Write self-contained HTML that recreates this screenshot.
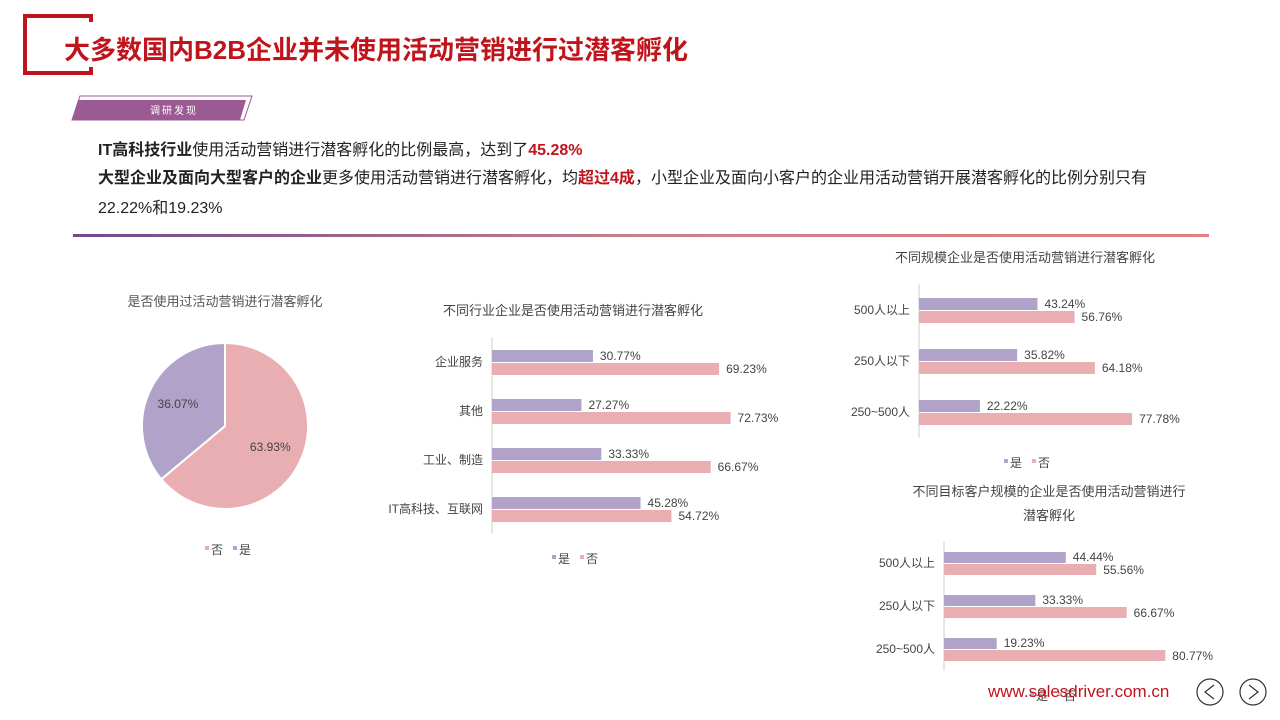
<!DOCTYPE html>
<html><head><meta charset="utf-8">
<style>
body{margin:0;width:1280px;height:720px;background:#fff;font-family:"Liberation Sans","Noto Sans CJK SC",sans-serif;overflow:hidden;position:relative}
.abs{position:absolute}
</style></head><body>
<div class="abs" style="left:23px;top:14px;width:70px;height:61px;border:4px solid #c0141c;border-right:none;box-sizing:border-box"></div>
<div class="abs" style="left:89px;top:14px;width:4px;height:8px;background:#c0141c"></div>
<div class="abs" style="left:89px;top:67px;width:4px;height:8px;background:#c0141c"></div>
<div class="abs" style="left:64px;top:30px;font-size:26px;font-weight:bold;color:#c0141c;font-family:'Liberation Sans','Noto Sans CJK SC',sans-serif">大多数国内B2B企业并未使用活动营销进行过潜客孵化</div>
<svg class="abs" style="left:70px;top:92px" width="190" height="30">
<polygon points="10,4 182,4 174,28 2,28" fill="none" stroke="#9b5a93" stroke-width="1"/>
<polygon points="8,8 176,8 170,28 2,28" fill="#9b5a93"/>
<text x="80" y="22" font-size="10" fill="#fff" letter-spacing="2" font-family="Liberation Sans,Noto Sans CJK SC,sans-serif">调研发现</text>
</svg>
<div class="abs" style="left:98px;top:136px;font-size:16px;color:#222">
<b>IT高科技行业</b>使用活动营销进行潜客孵化的比例最高，达到了<b style="color:#c0141c">45.28%</b></div>
<div class="abs" style="left:98px;top:164px;font-size:16px;color:#222;line-height:30px;width:1100px">
<b>大型企业及面向大型客户的企业</b>更多使用活动营销进行潜客孵化，均<b style="color:#c0141c">超过4成</b>，小型企业及面向小客户的企业用活动营销开展潜客孵化的比例分别只有<br>22.22%和19.23%</div>
<div class="abs" style="left:73px;top:234px;width:1136px;height:3px;background:linear-gradient(90deg,#6e4a8e,#c98089,#e08080)"></div>

<svg id="charts" class="abs" style="left:0;top:0" width="1280" height="720" font-family="Liberation Sans,Noto Sans CJK SC,sans-serif"></svg>

<div class="abs" style="left:988px;top:682px;font-size:17px;color:#c0141c">www.salesdriver.com.cn</div>
<svg class="abs" style="left:1195px;top:677px" width="80" height="32">
<g><circle cx="15" cy="15" r="13" fill="none" stroke="#333" stroke-width="1.2"/><polyline points="19,8 10,15 19,22" fill="none" stroke="#333" stroke-width="1.2"/></g>
<g><circle cx="58" cy="15" r="13" fill="none" stroke="#333" stroke-width="1.2"/><polyline points="54,8 63,15 54,22" fill="none" stroke="#333" stroke-width="1.2"/></g>
</svg>

<script>
const pieLabels=["是","否"];
const pieValues=[36.07,63.93];
const indCats=["企业服务","其他","工业、制造","IT高科技、互联网"];
const indYes=[30.77,27.27,33.33,45.28];
const indNo=[69.23,72.73,66.67,54.72];
const sizeCats=["500人以上","250人以下","250~500人"];
const sizeYes=[43.24,35.82,22.22];
const sizeNo=[56.76,64.18,77.78];
const custCats=["500人以上","250人以下","250~500人"];
const custYes=[44.44,33.33,19.23];
const custNo=[55.56,66.67,80.77];

const PURPLE="#b0a2c8",PINK="#e8aeb2",NS="http://www.w3.org/2000/svg";
const svg=document.getElementById('charts');
function el(tag,attrs,parent,txt){const e=document.createElementNS(NS,tag);for(const k in attrs)e.setAttribute(k,attrs[k]);if(txt!==undefined)e.textContent=txt;(parent||svg).appendChild(e);return e;}

const pg=el('g',{});


const t0=el('text',{x:225,y:306,'font-size':13,fill:'#555','text-anchor':'middle'},pg,'是否使用过活动营销进行潜客孵化');


const cx=225,cy=426,r=83;
const tot=pieValues.reduce((a,b)=>a+b,0);
const noFrac=pieValues[1]/tot;
function pt(a){return [cx+r*Math.sin(a),cy-r*Math.cos(a)];}
const aNo=noFrac*2*Math.PI;
let p1=pt(aNo);
const sNo=el('path',{d:`M${cx},${cy}L${cx},${cy-r}A${r},${r} 0 ${aNo>Math.PI?1:0} 1 ${p1[0]},${p1[1]}Z`,fill:PINK,stroke:'#fff','stroke-width':2},pg);


const sYes=el('path',{d:`M${cx},${cy}L${p1[0]},${p1[1]}A${r},${r} 0 ${(2*Math.PI-aNo)>Math.PI?1:0} 1 ${cx},${cy-r}Z`,fill:PURPLE,stroke:'#fff','stroke-width':2},pg);


function lbl(mid,rr,v){const x=cx+rr*Math.sin(mid),y=cy-rr*Math.cos(mid);return el('text',{x:x,y:y+4,'font-size':12,fill:'#444','text-anchor':'middle'},pg,v.toFixed(2)+'%');}
const l1=lbl(aNo/2,50,pieValues[1]);


const l2=lbl(aNo+(2*Math.PI-aNo)/2,52,pieValues[0]);


const lg=el('g',{},pg);


el('rect',{x:205,y:546,width:4,height:4,fill:PINK},lg);
el('text',{x:211,y:554,'font-size':12,fill:'#444'},lg,'否');
el('rect',{x:233,y:546,width:4,height:4,fill:PURPLE},lg);
el('text',{x:239,y:554,'font-size':12,fill:'#444'},lg,'是');

function barChart(o){
  const g=el('g',{});
  
  
  o.title.forEach((t,i)=>{const tt=el('text',{x:o.tx,y:o.ty+i*24,'font-size':13,fill:'#444','text-anchor':'middle'},g,t);
    
    });
  const xs=v=>o.ax+v*o.k;
  const ax=el('line',{x1:o.ax,x2:o.ax,y1:o.y0-o.step/2,y2:o.y0+o.step*(o.cats.length-0.5),stroke:'#ccc'},g);
  
  
  o.cats.forEach((c,i)=>{
    const cy=o.y0+i*o.step;
    const cl=el('text',{x:o.ax-9,y:cy+4,'font-size':12,fill:'#444','text-anchor':'end'},g,c);
    
    
    const b1=el('rect',{x:o.ax,y:cy-o.bh,width:xs(o.yes[i])-o.ax,height:o.bh,fill:PURPLE},g);
    
    
    const b2=el('rect',{x:o.ax,y:cy+1,width:xs(o.no[i])-o.ax,height:o.bh,fill:PINK},g);
    
    
    const v1=el('text',{x:xs(o.yes[i])+7,y:cy-2,'font-size':12,fill:'#444'},g,o.yes[i].toFixed(2)+'%');
    
    
    const v2=el('text',{x:xs(o.no[i])+7,y:cy+11,'font-size':12,fill:'#444'},g,o.no[i].toFixed(2)+'%');
    
    
  });
  const lg=el('g',{},g);
  
  
  el('rect',{x:o.lx,y:o.ly-6,width:4,height:4,fill:PURPLE},lg);
  el('text',{x:o.lx+6,y:o.ly+2,'font-size':12,fill:'#444'},lg,'是');
  el('rect',{x:o.lx+28,y:o.ly-6,width:4,height:4,fill:PINK},lg);
  el('text',{x:o.lx+34,y:o.ly+2,'font-size':12,fill:'#444'},lg,'否');
}
barChart({name:'industry-bar-chart',title:['不同行业企业是否使用活动营销进行潜客孵化'],tx:573,ty:315,cats:indCats,yes:indYes,no:indNo,ax:492,k:3.28,y0:362,step:49,bh:12,lx:552,ly:561});
barChart({name:'size-bar-chart',title:['不同规模企业是否使用活动营销进行潜客孵化'],tx:1025,ty:262,cats:sizeCats,yes:sizeYes,no:sizeNo,ax:919,k:2.74,y0:310,step:51,bh:12,lx:1004,ly:465});
barChart({name:'customer-bar-chart',title:['不同目标客户规模的企业是否使用活动营销进行','潜客孵化'],tx:1049,ty:496,cats:custCats,yes:custYes,no:custNo,ax:944,k:2.74,y0:563,step:43,bh:11,lx:1030,ly:698});
</script>
</body></html>
